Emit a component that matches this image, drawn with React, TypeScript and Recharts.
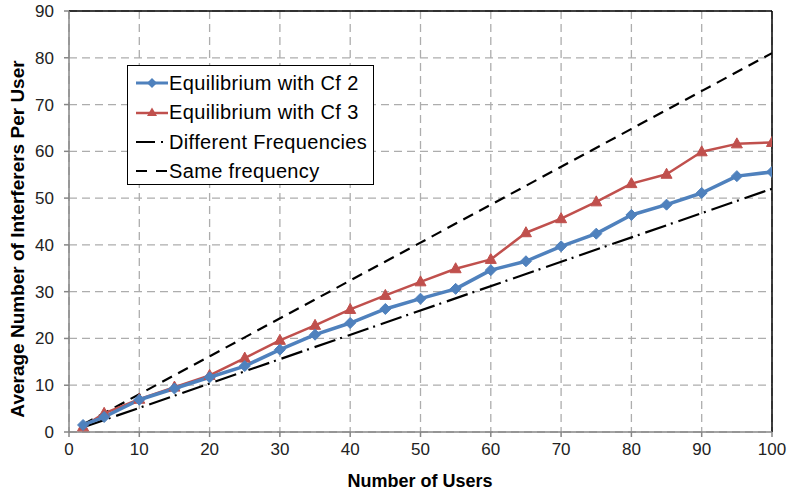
import React from 'react';
import { LineChart, Line, XAxis, YAxis, CartesianGrid, ReferenceLine } from 'recharts';

const xUsers = [2, 5, 10, 15, 20, 25, 30, 35, 40, 45, 50, 55, 60, 65, 70, 75, 80, 85, 90, 95, 100];
const cf2Values = [1.5, 3.2, 6.9, 9.3, 11.7, 14.1, 17.6, 20.8, 23.3, 26.3, 28.5, 30.6, 34.6, 36.5, 39.7, 42.4, 46.4, 48.6, 51.1, 54.7, 55.6];
const cf3Values = [1.1, 4.0, 7.0, 9.6, 12.1, 15.8, 19.6, 22.8, 26.2, 29.2, 32.1, 34.9, 36.9, 42.6, 45.6, 49.2, 53.1, 55.1, 59.9, 61.6, 61.9];
const diffFreqX = [2, 100];
const diffFreqValues = [1.0, 52.0];
const sameFreqX = [2, 100];
const sameFreqValues = [1.6, 81.0];
const xTicks = [0, 10, 20, 30, 40, 50, 60, 70, 80, 90, 100];
const yTicks = [0, 10, 20, 30, 40, 50, 60, 70, 80, 90];
const seriesNames = ['Equilibrium with Cf 2', 'Equilibrium with Cf 3', 'Different Frequencies', 'Same frequency'];
const xTitle = 'Number of Users';
const yTitle = 'Average Number of Interferers Per User';

const BLUE = '#4F81BD';
const RED = '#C0504D';
const FONT = '"Liberation Sans", Arial, sans-serif';

const mainData = xUsers.map((x, i) => ({ x, cf2: cf2Values[i], cf3: cf3Values[i] }));
const diffData = diffFreqX.map((x, i) => ({ x, y: diffFreqValues[i] }));
const sameData = sameFreqX.map((x, i) => ({ x, y: sameFreqValues[i] }));

const DOT_DASH = '22 5 2 6';
const DASH = '11 7';

const Diamond = (p: any) => {
  const { cx, cy, index } = p;
  if (cx == null || cy == null) return <g key={`d${index}`} />;
  const r = 5.5;
  return <path key={`d${index}`} d={`M${cx},${cy - r}L${cx + r},${cy}L${cx},${cy + r}L${cx - r},${cy}Z`} fill={BLUE} stroke={BLUE} strokeWidth={1} />;
};

const Triangle = (p: any) => {
  const { cx, cy, index } = p;
  if (cx == null || cy == null) return <g key={`t${index}`} />;
  return <path key={`t${index}`} d={`M${cx},${cy - 6}L${cx + 5.5},${cy + 4}L${cx - 5.5},${cy + 4}Z`} fill={RED} stroke={RED} strokeWidth={1} />;
};

const legendIcons = [
  <svg width={32} height={12} key="i0"><line x1={0} y1={6} x2={32} y2={6} stroke={BLUE} strokeWidth={3} /><path d="M16,1L21,6L16,11L11,6Z" fill={BLUE} /></svg>,
  <svg width={32} height={12} key="i1"><line x1={0} y1={7} x2={32} y2={7} stroke={RED} strokeWidth={2.5} /><path d="M16,1.5L21,10L11,10Z" fill={RED} /></svg>,
  <svg width={32} height={12} key="i2"><line x1={0} y1={6} x2={32} y2={6} stroke="#000" strokeWidth={2} strokeDasharray="19 6 2 6" /></svg>,
  <svg width={32} height={12} key="i3"><line x1={0} y1={6} x2={32} y2={6} stroke="#000" strokeWidth={2} strokeDasharray="11 9" /></svg>,
];

export default function App() {
  return (
    <div style={{ position: 'absolute', left: 0, top: 0, width: 788, height: 495, background: '#fff', fontFamily: FONT }}>
      <LineChart width={788} height={495} margin={{ top: 11, right: 16, left: 0, bottom: 0 }} data={mainData}>
        <CartesianGrid stroke="#ADADAD" strokeDasharray="8 5" strokeWidth={1.3} />
        <XAxis
          type="number"
          dataKey="x"
          domain={[0, 100]}
          ticks={xTicks}
          allowDataOverflow
          stroke="#868686"
          strokeWidth={1.5}
          tickSize={5}
          tickMargin={6}
          height={63}
          tick={{ fill: '#222', fontSize: 17, fontFamily: FONT }}
        />
        <YAxis
          type="number"
          domain={[0, 90]}
          ticks={yTicks}
          allowDataOverflow
          stroke="#868686"
          strokeWidth={1.5}
          tickSize={5}
          tickMargin={10}
          width={69}
          tick={{ fill: '#222', fontSize: 17, fontFamily: FONT }}
        />
        <ReferenceLine y={90} stroke="#000" strokeWidth={1.5} />
        <ReferenceLine x={100} stroke="#000" strokeWidth={1.5} />
        <Line data={sameData} dataKey="y" type="linear" stroke="#000" strokeWidth={2.2} strokeDasharray={DASH} dot={false} isAnimationActive={false} legendType="none" />
        <Line data={diffData} dataKey="y" type="linear" stroke="#000" strokeWidth={2.2} strokeDasharray={DOT_DASH} dot={false} isAnimationActive={false} legendType="none" />
        <Line dataKey="cf3" type="linear" stroke={RED} strokeWidth={2.5} strokeLinejoin="round" dot={Triangle} activeDot={false} isAnimationActive={false} />
        <Line dataKey="cf2" type="linear" stroke={BLUE} strokeWidth={3.5} strokeLinejoin="round" dot={Diamond} activeDot={false} isAnimationActive={false} />
      </LineChart>
      <div style={{ position: 'absolute', left: 127, top: 65, border: '1.5px solid #000', background: '#fff', width: 247, height: 120, boxSizing: 'border-box', paddingTop: 2 }}>
        {seriesNames.map((n, i) => (
          <div key={n} style={{ display: 'flex', alignItems: 'center', height: 29.5, paddingLeft: 8 }}>
            {legendIcons[i]}
            <span style={{ fontSize: 20, letterSpacing: 0.35, color: '#000', marginLeft: 1, whiteSpace: 'nowrap', lineHeight: '22px' }}>{n}</span>
          </div>
        ))}
      </div>
      <div style={{ position: 'absolute', left: 420, top: 481, transform: 'translate(-50%, -50%)', fontSize: 18, fontWeight: 'bold', whiteSpace: 'nowrap', color: '#000' }}>{xTitle}</div>
      <div style={{ position: 'absolute', left: 18, top: 239, transform: 'translate(-50%, -50%) rotate(-90deg)', fontSize: 19, fontWeight: 'bold', whiteSpace: 'nowrap', color: '#000' }}>{yTitle}</div>
    </div>
  );
}
